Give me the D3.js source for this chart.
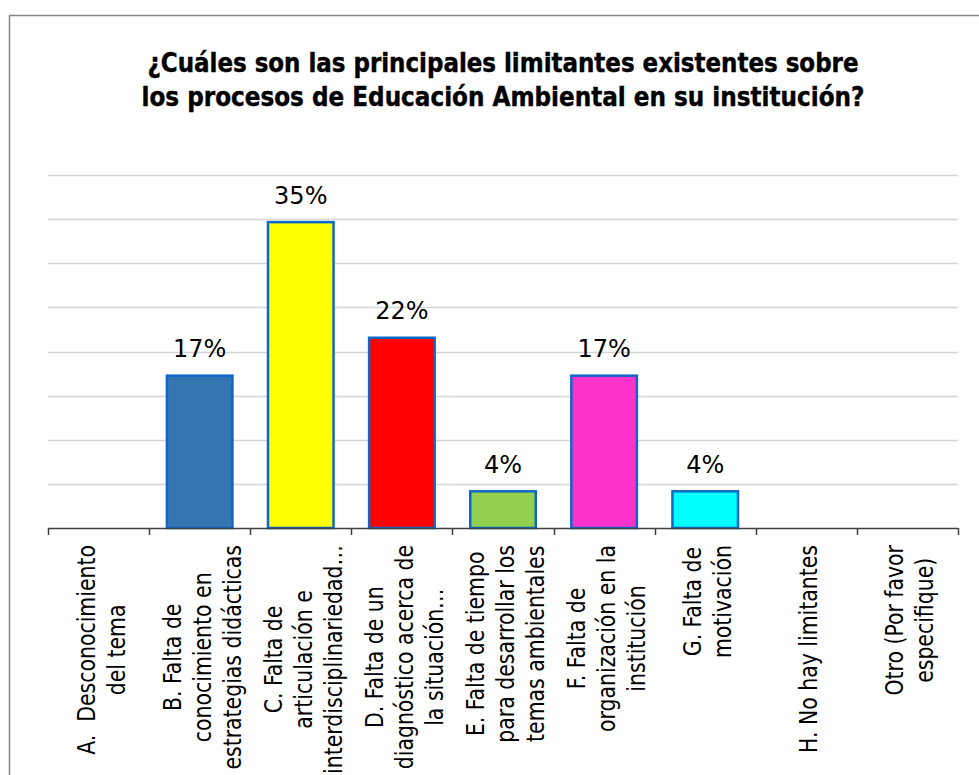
<!DOCTYPE html>
<html>
<head>
<meta charset="utf-8">
<script src="https://cdn.jsdelivr.net/npm/d3@7/dist/d3.min.js"></script>
<style>
  html, body { margin: 0; padding: 0; background: #fff; }
  svg { display: block; }
</style>
</head>
<body>
<svg id="chart" width="979" height="775"></svg>
<script>
// ---- data ----
const titleLines = [
  "¿Cuáles son las principales limitantes existentes sobre",
  "los procesos de Educación Ambiental en su institución?"
];
const categories = ["A", "B", "C", "D", "E", "F", "G", "H", "Otro"];
const categoryLabels = [
  ["A.  Desconocimiento", "del tema"],
  ["B. Falta de", "conocimiento en", "estrategias didácticas"],
  ["C. Falta de", "articulación e", "interdisciplinariedad…"],
  ["D. Falta de un", "diagnóstico acerca de", "la situación…"],
  ["E. Falta de tiempo", "para desarrollar los", "temas ambientales"],
  ["F. Falta de", "organización en la", "institución"],
  ["G. Falta de", "motivación"],
  ["H. No hay limitantes"],
  ["Otro (Por favor", "especifique)"]
];
const values = [0, 0.174, 0.348, 0.217, 0.043, 0.174, 0.043, 0, 0];
const valueLabels = ["", "17%", "35%", "22%", "4%", "17%", "4%", "", ""];
const barColors = ["#3275B0", "#3275B0", "#FFFF00", "#FF0000", "#92D050", "#FF33CC", "#00FFFF", "#3275B0", "#3275B0"];
const yTicks = [0.05, 0.10, 0.15, 0.20, 0.25, 0.30, 0.35, 0.40];

// ---- layout ----
const svg = d3.select("#chart");
const FONT = "'DejaVu Sans Condensed', 'DejaVu Sans', Verdana, sans-serif";
const FONT_R = "'DejaVu Sans', Verdana, sans-serif";
const plot = { left: 48, right: 958, top: 175, bottom: 528 };

// frame
svg.append("rect")
  .attr("x", 9.5).attr("y", 15.5)
  .attr("width", 1000).attr("height", 1000)
  .attr("fill", "none").attr("stroke", "#878787").attr("stroke-width", 1.5);

function measure(text, family, weight, size) {
  const t = svg.append("text").attr("font-family", family).attr("font-weight", weight)
    .attr("font-size", size).attr("xml:space", "preserve").text(text);
  const w = t.node().getComputedTextLength();
  t.remove();
  return w;
}

// title
const titleTargets = [711, 723];
const TITLE_SIZE = 26;
svg.append("g").selectAll("text").data(titleLines).join("text")
  .attr("x", 503)
  .attr("y", (d, i) => 72 + i * 34)
  .attr("text-anchor", "middle")
  .attr("font-family", FONT).attr("font-weight", "bold")
  .attr("font-size", TITLE_SIZE)
  .attr("textLength", (d, i) => titleTargets[i])
  .attr("lengthAdjust", "spacingAndGlyphs")
  .attr("fill", "#000")
  .attr("stroke", "#000").attr("stroke-width", 0.4)
  .text(d => d);

// scales
const x = d3.scaleBand().domain(categories)
  .range([plot.left, plot.right]).paddingInner(0.327).paddingOuter(0.1635);
const xEdges = d3.scaleBand().domain(categories).range([plot.left, plot.right]).padding(0);
const y = d3.scaleLinear().domain([0, 0.40]).range([plot.bottom, plot.top]);

// gridlines
svg.append("g").selectAll("line").data(yTicks).join("line")
  .attr("x1", plot.left).attr("x2", plot.right)
  .attr("y1", d => Math.round(y(d)) + 0.5).attr("y2", d => Math.round(y(d)) + 0.5)
  .attr("stroke", "#D4D4D4").attr("stroke-width", 1.5);

// bars
const data = categories.map((c, i) => ({ c, v: values[i], label: valueLabels[i], color: barColors[i], lines: categoryLabels[i] }));
svg.append("g").selectAll("rect").data(data.filter(d => d.v > 0)).join("rect")
  .attr("x", d => x(d.c) + 1.25)
  .attr("width", x.bandwidth() - 2.5)
  .attr("y", d => y(d.v) + 1.25)
  .attr("height", d => y(0) - y(d.v) - 1.25)
  .attr("fill", d => d.color)
  .attr("stroke", "#0F67C8").attr("stroke-width", 2.5);

// value labels
const VALUE_SIZE = 24;
svg.append("g").selectAll("text").data(data.filter(d => d.v > 0)).join("text")
  .attr("x", d => x(d.c) + x.bandwidth() / 2)
  .attr("y", d => y(d.v) - 17)
  .attr("text-anchor", "middle")
  .attr("font-family", FONT_R).attr("font-size", VALUE_SIZE)
  .attr("fill", "#000")
  .text(d => d.label);

// x axis baseline + ticks at category boundaries
svg.append("line")
  .attr("x1", plot.left).attr("x2", plot.right)
  .attr("y1", plot.bottom + 0.5).attr("y2", plot.bottom + 0.5)
  .attr("stroke", "#404040").attr("stroke-width", 1.5);
const edges = categories.map(c => xEdges(c)).concat([plot.right]);
svg.append("g").selectAll("line").data(edges).join("line")
  .attr("x1", d => Math.round(d) + 0.5).attr("x2", d => Math.round(d) + 0.5)
  .attr("y1", plot.bottom).attr("y2", plot.bottom + 7)
  .attr("stroke", "#404040").attr("stroke-width", 1.5);

// category labels, rotated
const AXIS_SIZE = 24;
const k = 208 / measure("H. No hay limitantes", FONT, "normal", AXIS_SIZE);
const lineGap = 30;
const labelG = svg.append("g");
data.forEach(d => {
  const cx = xEdges(d.c) + xEdges.bandwidth() / 2;
  const n = d.lines.length;
  const widths = d.lines.map(l => measure(l, FONT, "normal", AXIS_SIZE) * k);
  const maxW = d3.max(widths);
  const cy = 545 + maxW / 2;
  d.lines.forEach((l, i) => {
    const bx = cx + (i - (n - 1) / 2) * lineGap + 11;
    labelG.append("text")
      .attr("transform", `translate(${bx},${cy}) rotate(-90)`)
      .attr("text-anchor", "middle")
      .attr("font-family", FONT).attr("font-size", AXIS_SIZE)
      .attr("xml:space", "preserve")
      .attr("textLength", widths[i])
      .attr("lengthAdjust", "spacingAndGlyphs")
      .attr("fill", "#000")
      .text(l);
  });
});
</script>
</body>
</html>
